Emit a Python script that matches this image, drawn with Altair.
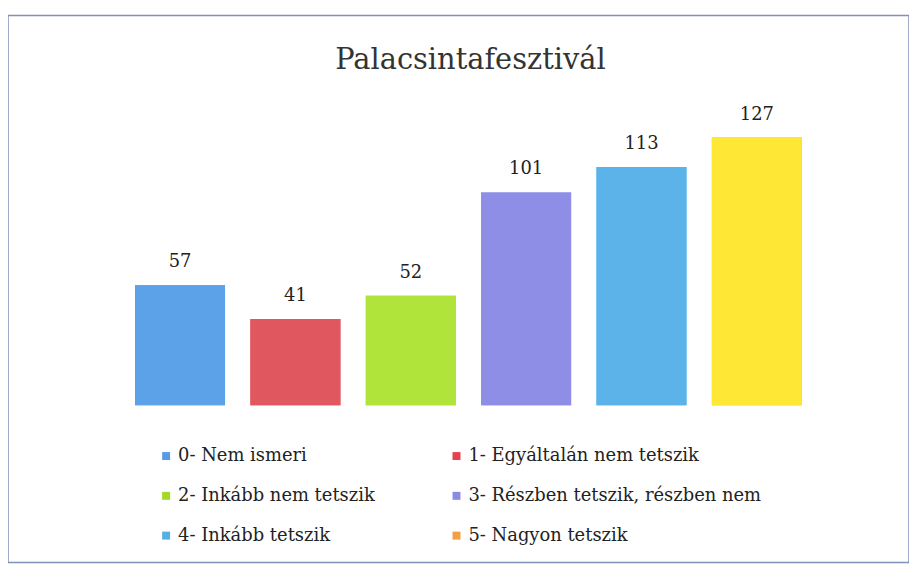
import altair as alt
import pandas as pd

categories = ["0- Nem ismeri", "1- Egyáltalán nem tetszik", "2- Inkább nem tetszik",
              "3- Részben tetszik, részben nem", "4- Inkább tetszik", "5- Nagyon tetszik"]
values = [57, 41, 52, 101, 113, 127]
bar_colors = ["#5ba2e8", "#e0575f", "#b0e43a", "#8e8ee6", "#5cb3ea", "#ffe835"]
legend_colors = ["#5b9be2", "#e6424c", "#a2d925", "#8a8ae2", "#52b0e2", "#f2a043"]

df = pd.DataFrame({"cat": categories, "value": values, "barColor": bar_colors})

legend_order = [0, 2, 4, 1, 3, 5]
legend_domain = [categories[i] for i in legend_order]
legend_range = [legend_colors[i] for i in legend_order]

FONT = "DejaVu Serif"

x = alt.X("cat:N", sort=categories, axis=None,
          scale=alt.Scale(range=[115, 811], paddingInner=0.22, paddingOuter=0.11))
y = alt.Y("value:Q", axis=None, scale=alt.Scale(domain=[0, 100], range=[392, 180]))

base = alt.Chart(df)

legend_layer = base.mark_bar().encode(
    x=x, y=y,
    color=alt.Color("cat:N",
                    scale=alt.Scale(domain=legend_domain, range=legend_range),
                    legend=alt.Legend(title=None, orient="none", legendX=150, legendY=434,
                                      columns=2, columnPadding=73, rowPadding=22,
                                      symbolType="square", symbolSize=64, symbolStrokeWidth=0,
                                      labelFont=FONT, labelFontSize=18, labelColor="#222222",
                                      labelOffset=3, labelLimit=400)),
)

bars = base.mark_bar().encode(
    x=x, y=y,
    fill=alt.Fill("barColor:N", scale=None),
)

labels = base.mark_text(font=FONT, fontSize=18, color="#222222", baseline="alphabetic", dy=-18).encode(
    x=x, y=y, text=alt.Text("value:Q"),
)

chart = alt.layer(legend_layer, bars, labels).properties(
    width=906, height=550,
    padding={"left": 0, "top": 6, "right": 0, "bottom": 0},
    title=alt.TitleParams("Palacsintafesztivál", font=FONT, fontSize=29, fontWeight="normal",
                          color="#333333", anchor="middle", offset=-60, dx=12),
    background="white",
).configure_view(stroke="#8090b8", strokeWidth=1.5)

chart.save("out.html", embed_options={"renderer": "svg", "actions": False})
